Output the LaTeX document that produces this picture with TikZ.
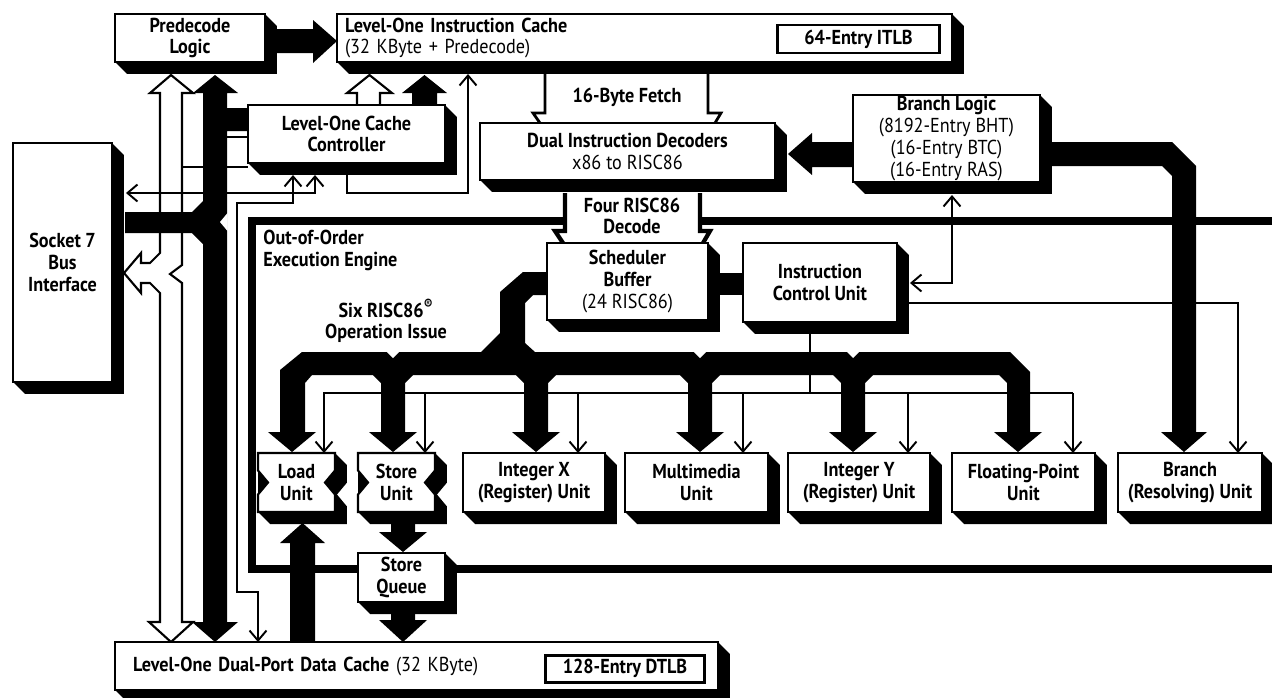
\documentclass[tikz,border=0pt]{standalone}
\usepackage{fontspec}
\setmainfont{PT Sans}[FakeStretch=0.9]
\usetikzlibrary{arrows.meta,calc,backgrounds}

\tikzset{
  blk/.style={draw, fill=white, line width=1.2pt, outer sep=0pt, inner sep=0pt, align=center},
  tlb/.style={draw, fill=white, line width=1.7pt, outer sep=0pt, inner sep=0pt},
  lbl/.style={inner sep=0pt, align=center},
  wire/.style={line width=1.1pt}
}
\newcommand{\boxshadow}[1]{%
  \fill (#1.north west) -- (#1.north east) -- ++(12,12) -- ($(#1.south east)+(12,12)$)
    -- ($(#1.south west)+(12,12)$) -- (#1.south west) -- cycle;}

\begin{document}
\begin{tikzpicture}[x=0.02cm, y=-0.02cm, >={Straight Barb[length=2mm,width=3.4mm]},
  font=\fontsize{11.5}{12.4}\selectfont\bfseries]
\useasboundingbox (0,0) rectangle (1272,697);

\node[blk, minimum width=3cm, minimum height=0.96cm] (pred) at (190,38) {Predecode\\Logic};
\node[blk, minimum width=12.3cm, minimum height=0.96cm, text width=11.98cm, inner xsep=0.16cm, align=left] (icache) at (644.5,38) {Level-One Instruction Cache\\{\mdseries(32 KByte + Predecode)}};
\node[tlb, minimum width=3.26cm, minimum height=0.56cm] (itlb) at (858.5,39) {64-Entry ITLB};
\node[blk, minimum width=3.94cm, minimum height=1.16cm] (ctrl) at (346.5,134) {Level-One Cache\\Controller};
\node[blk, minimum width=1.98cm, minimum height=4.78cm] (socket) at (62.5,262.5) {Socket 7\\Bus\\Interface};
\node[blk, minimum width=5.9cm, minimum height=1.14cm] (dec) at (627.5,151.5) {Dual Instruction Decoders\\{\mdseries x86 to RISC86}};
\node[blk, minimum width=3.74cm, minimum height=1.74cm] (blogic) at (946.5,138.5) {Branch Logic\\{\mdseries(8192-Entry BHT)}\\{\mdseries(16-Entry BTC)}\\{\mdseries(16-Entry RAS)}};
\node[blk, minimum width=3.22cm, minimum height=1.54cm] (sched) at (627.5,281.5) {Scheduler\\Buffer\\{\mdseries(24 RISC86)}};
\node[blk, minimum width=3.08cm, minimum height=1.58cm] (icu) at (820,282.5) {Instruction\\Control Unit};
\node[blk, draw=none, fill=none, minimum width=1.54cm, minimum height=1.18cm] (load) at (296.5,482.5) {Load\\Unit};
\node[blk, draw=none, fill=none, minimum width=1.54cm, minimum height=1.18cm] (store) at (396.5,482.5) {Store\\Unit};
\node[blk, minimum width=2.84cm, minimum height=1.18cm] (intx) at (534,482.5) {Integer X\\(Register) Unit};
\node[blk, minimum width=2.86cm, minimum height=1.18cm] (mmx) at (696.5,482.5) {Multimedia\\Unit};
\node[blk, minimum width=2.84cm, minimum height=1.18cm] (inty) at (859,482.5) {Integer Y\\(Register) Unit};
\node[blk, minimum width=2.86cm, minimum height=1.18cm] (fpu) at (1023.5,482.5) {Floating-Point\\Unit};
\node[blk, minimum width=2.88cm, minimum height=1.18cm] (bru) at (1190,482.5) {Branch\\(Resolving) Unit};
\node[blk, minimum width=1.74cm, minimum height=0.98cm] (squeue) at (401.5,577.5) {Store\\Queue};
\node[blk, minimum width=12.06cm, minimum height=0.96cm, text width=11.34cm, inner xsep=0.36cm, align=left] (dcache) at (416.5,666) {Level-One Dual-Port Data Cache {\mdseries(32 KByte)}};
\node[tlb, minimum width=3.2cm, minimum height=0.54cm] (dtlb) at (625,668.5) {128-Entry DTLB};

\node[lbl] (fetchlbl) at (627,97) {16-Byte Fetch};
\node[lbl] (decodelbl) at (632,216) {Four RISC86\\Decode};
\node[lbl, anchor=north west, align=left] (ooolbl) at (263,230) {Out-of-Order\\Execution Engine};
\node[lbl] (issuelbl) at (386,321) {Six RISC86\textsuperscript{\textregistered}\\Operation Issue};

\begin{scope}[on background layer]
\draw[line width=0.15cm] (1272,221) -- (252,221) -- (252,569) -- (1272,569);

\fill[white] (565,193) -- (565,231) -- (555,231) -- (563,243) -- (703,243) -- (710,231) -- (700,231) -- (700,193) -- cycle;
\draw[line width=2.4pt] (565,193) -- (565,231) -- (555,231) -- (563,243);
\draw[line width=2.4pt] (700,193) -- (700,231) -- (710,231) -- (703,243);
\draw[line width=1.6pt] (545,74) -- (545,113) -- (533,113) -- (540,123);
\draw[line width=1.6pt] (708,74) -- (708,113) -- (721,113) -- (715,123);

\filldraw[fill=white, line width=1.2pt] (160,622) -- (160,293) -- (150,283) -- (141,283) -- (141,293) -- (124,273) -- (141,253) -- (141,263) -- (150,263) -- (160,253) -- (160,93) -- (150,93) -- (171,75) -- (193,93) -- (182,93) -- (182,265) -- (170,274) -- (182,283) -- (182,622) -- (193,622) -- (171,642) -- (149,622) -- cycle;
\draw[wire] (182,167) -- (248,167);
\draw[wire] (227,137) -- (248,137);
\filldraw[fill=white, line width=1.2pt] (357,105) -- (357,93) -- (347,93) -- (369.5,75) -- (392,93) -- (380,93) -- (380,105);

\draw[wire, <->] ($(socket.east |- 0,193)+(14,0)$) -| ($(ctrl.south -| 315,0)+(0,12)$);
\draw[wire, ->] ($(ctrl.south -| 347,0)+(0,12)$) |- (468,193) -- ($(icache.south -| 468,0)+(0,12)$);
\draw[wire, <->] ($(ctrl.south -| 293,0)+(0,12)$) |- (237,203) |- (258,592) -- (dcache.north -| 258,0);
\draw[wire, <->] ($(blogic.south -| 952,0)+(0,13)$) |- ($(icu.east |- 0,283)+(13,0)$);
\draw[wire, ->] ($(icu.east |- 0,303)+(12,0)$) -| (bru.north -| 1238,0);
\draw[wire] ($(icu.south -| 810,0)+(0,12)$) -- (810,393);
\draw[wire, ->] (1073,393) -- (324,393) -- (load.north -| 324,0);
\foreach \x/\u in {425/store, 578/intx, 743/mmx, 908/inty, 1073/fpu}
  \draw[wire, ->] (\x,393) -- (\u.north -| \x,0);

\fill (265,29) -- (313,29) -- (313,20) -- (337,41) -- (313,63) -- (313,53) -- (265,53) -- cycle;
\fill (203,93) -- (193,93) -- (215,75) -- (238,93) -- (227,93) -- (227,108) -- (248,108) -- (248,131) -- (227,131) -- (227,622) -- (238,622) -- (215,642) -- (192,622) -- (203,622) -- (203,244) -- (192,233) -- (125,233) -- (125,212) -- (192,212) -- (203,201) -- cycle;
\fill[white] (227.5,213) -- (220,222) -- (227.5,231) -- cycle;
\fill (412,105) -- (412,93) -- (402,93) -- (424.5,75) -- (447,93) -- (437,93) -- (437,105) -- cycle;
\fill (853,142) -- (812,142) -- (812,133) -- (788,154) -- (812,175) -- (812,167) -- (853,167) -- cycle;
\fill (1040,142) -- (1172,142) -- (1196,166) -- (1196,432) -- (1207,432) -- (1184,452) -- (1161,432) -- (1172,432) -- (1172,176) -- (1162,166) -- (1040,166) -- cycle;
\fill (708,273) rectangle (743,295);
\fill (292,452) -- (268,432) -- (280,432) -- (280,370) -- (302,352) -- (481,352) -- (500,333) -- (500,292) -- (523,272) -- (547,272) -- (547,295) -- (533,295) -- (525,303) -- (525,343) -- (535,352) -- (1010,352) -- (1030,372) -- (1030,432) -- (1042,432) -- (1018,452) -- (994,432) -- (1007,432) -- (1007,383) -- (999,375) -- (312,375) -- (305,383) -- (305,432) -- (316,432) -- cycle;
\foreach \c in {393,536,700,853}
  \fill (\c+20,370) -- (\c+20,375) -- (\c+12,383) -- (\c+12,432) -- (\c+24,432) -- (\c,452) -- (\c-24,432) -- (\c-12,432) -- (\c-12,383) -- (\c-20,375) -- (\c-20,370) -- cycle;
\foreach \c in {393,700,853}
  \fill[white] (\c-7,351) -- (\c,358) -- (\c+7,351) -- cycle;
\fill (391,523) -- (415,523) -- (415,532) -- (427,532) -- (403,552) -- (379,532) -- (391,532) -- cycle;
\fill (391,613) -- (415,613) -- (415,620) -- (427,620) -- (403,642) -- (379,620) -- (391,620) -- cycle;
\fill (290,642) -- (290,543) -- (280,543) -- (302.5,523) -- (325,543) -- (315,543) -- (315,642) -- cycle;

\foreach \b in {pred,icache,ctrl,socket,dec,blogic,sched,icu,intx,mmx,inty,fpu,bru,squeue,dcache} {
  \boxshadow{\b}
}
\foreach \b in {load,store} {
  \fill (\b.north west) -- (\b.north east) -- ++(12,12) -- ($(\b.east)+(12,0)$) -- ($(\b.east)+(2,12)$) -- ($(\b.east)+(12,24)$) -- ($(\b.south east)+(12,12)$) -- ($(\b.south west)+(12,12)$) -- (\b.south west) -- cycle;
  \filldraw[fill=white, line width=1.2pt] (\b.north west) -- (\b.north east) -- ($(\b.east)+(0,-12)$) -- ($(\b.east)+(-10,0)$) -- ($(\b.east)+(0,12)$) -- (\b.south east) -- (\b.south west) -- ($(\b.west)+(0,12)$) -- ($(\b.west)+(10,0)$) -- ($(\b.west)+(0,-12)$) -- cycle;
}
\end{scope}
\end{tikzpicture}
\end{document}
